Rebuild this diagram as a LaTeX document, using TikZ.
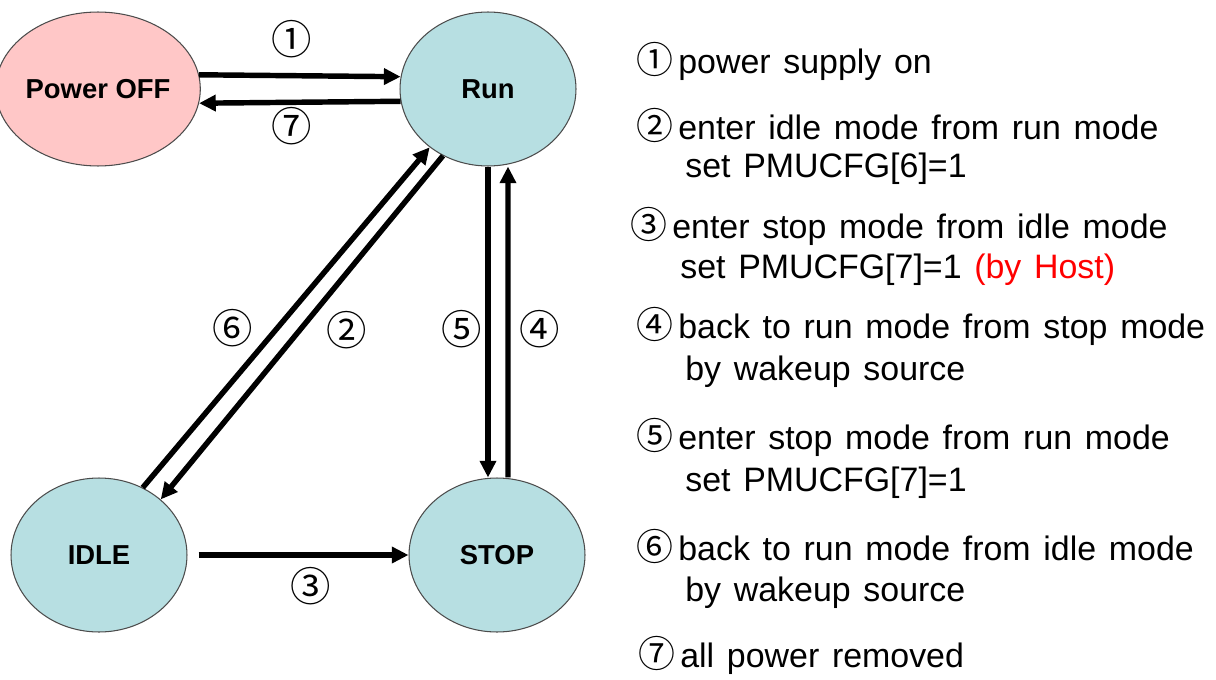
\documentclass[tikz,border=0pt]{standalone}
\usepackage{fontspec}
\setmainfont{Liberation Sans}
\newfontfamily\legendfont[WordSpace=1.35]{Liberation Sans}
\newfontfamily\cjkfont{Noto Sans CJK KR}
\usetikzlibrary{shapes.geometric,arrows.meta,positioning,calc}

\definecolor{offpink}{RGB}{255,199,199}
\definecolor{modeteal}{RGB}{183,223,226}
\definecolor{hostred}{RGB}{255,0,0}
\newcommand{\lnum}[1]{\makebox[0.84cm][l]{\fontsize{21}{22}\selectfont\cjkfont #1}}

\begin{document}
\begin{tikzpicture}[x=0.02cm, y=-0.02cm,
    state/.style={ellipse, draw=black!70, line width=0.6pt, minimum width=3.52cm,
      minimum height=3.08cm, inner sep=0pt, font=\fontsize{15.6}{18}\selectfont\bfseries},
    flow/.style={line width=3.1pt, -{Triangle[length=9.5pt,width=9pt]}},
    numlbl/.style={inner sep=0pt, font=\fontsize{23}{24}\selectfont\cjkfont},
    legend/.style={anchor=base west, inner sep=0pt, font=\fontsize{19.3}{23}\selectfont\legendfont}]
    \useasboundingbox (0,0) rectangle (1216,679);

    % States
    \node[state, fill=offpink] (off) at (98,89) {Power OFF};
    \node[state, fill=modeteal] (run) at (488,89) {Run};
    \node[state, fill=modeteal] (idle) at (99,555) {IDLE};
    \node[state, fill=modeteal] (stop) at (497,555) {STOP};

    % Transitions
    \draw[flow] (off.8) -- (run.172)
        node[numlbl, pos=0.5, xshift=-0.16cm, yshift=0.74cm] (n1) {①};
    \draw[flow] (run.188) -- (off.-8)
        node[numlbl, pos=0.5, xshift=-0.16cm, yshift=-0.48cm] (n7) {⑦};
    \draw[flow] (run.236) -- (idle.42)
        node[numlbl, pos=0.5, xshift=0.9cm, yshift=-0.06cm] (n2) {②};
    \draw[flow] (idle.57) -- (run.225)
        node[numlbl, pos=0.5, xshift=-1.08cm, yshift=-0.22cm] (n6) {⑥};
    \draw[flow] (run.south) -- (run.south |- stop.north)
        node[numlbl, pos=0.5, xshift=-0.52cm, yshift=-0.14cm] (n5) {⑤};
    \draw[flow] ([xshift=0.22cm]stop.north) -- ([xshift=0.4cm]run.south)
        node[numlbl, pos=0.5, xshift=0.64cm, yshift=-0.14cm] (n4) {④};
    \draw[flow, shorten <=0.22cm] (idle.east) -- (stop.west)
        node[numlbl, pos=0.5, xshift=0.26cm, yshift=-0.62cm] (n3) {③};

    % Legend
    \node[legend] (l1) at (636,73) {\lnum{①}power supply on};
    \node[legend] (l2) at (636,139) {\lnum{②}enter idle mode from run mode};
    \node[legend] (l2b) at (685,177) {set PMUCFG[6]=1};
    \node[legend] (l3) at (630,238) {\lnum{③}enter stop mode from idle mode};
    \node[legend] (l3b) at (680,278) {set PMUCFG[7]=1 \textcolor{hostred}{(by Host)}};
    \node[legend] (l4) at (636,338) {\lnum{④}back to run mode from stop mode};
    \node[legend] (l4b) at (685,380) {by wakeup source};
    \node[legend] (l5) at (636,449) {\lnum{⑤}enter stop mode from run mode};
    \node[legend] (l5b) at (685,491) {set PMUCFG[7]=1};
    \node[legend] (l6) at (636,560) {\lnum{⑥}back to run mode from idle mode};
    \node[legend] (l6b) at (685,601) {by wakeup source};
    \node[legend] (l7) at (638,667) {\lnum{⑦}all power removed};
\end{tikzpicture}
\end{document}
